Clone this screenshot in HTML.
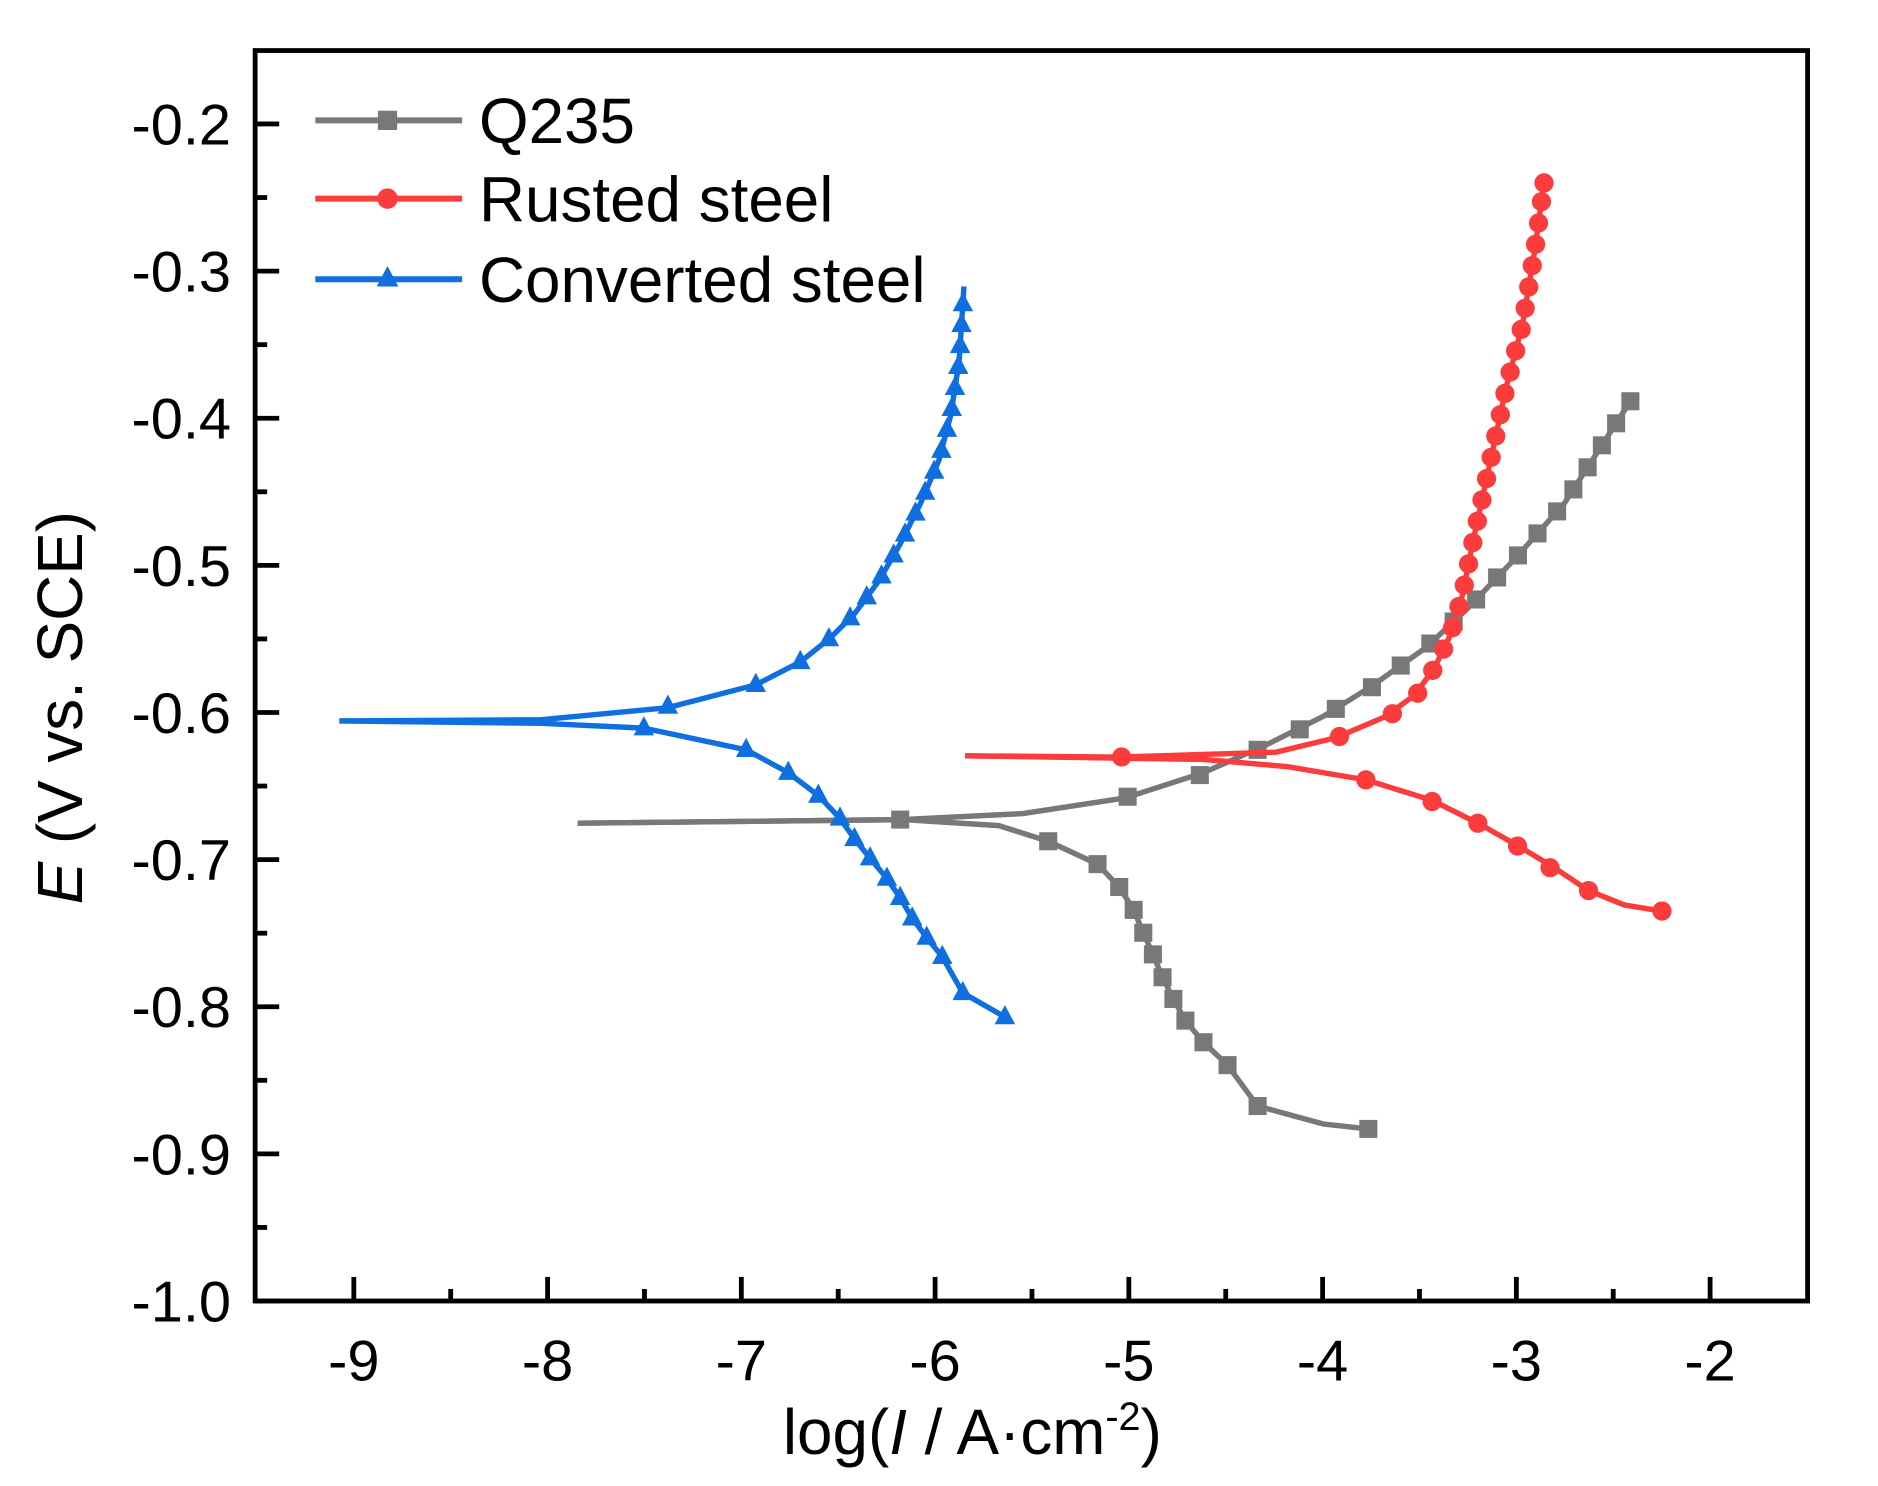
<!DOCTYPE html>
<html><head><meta charset="utf-8"><style>
html,body{margin:0;padding:0;background:#fff;}
svg{display:block;}
text{font-family:"Liberation Sans",Arial,sans-serif;fill:#000;}
</style></head><body>
<svg id="s" width="1878" height="1486" viewBox="0 0 1560.5 1234.7" preserveAspectRatio="none" xmlns="http://www.w3.org/2000/svg">
<g id="ax"></g>
<g id="series"></g>
<rect x="212" y="42" width="1290" height="1039" fill="none" stroke="#000" stroke-width="4"/>
<g font-size="48" text-anchor="end" id="ylab"></g>
<g font-size="48" text-anchor="middle" id="xlab"></g>
<text x="808" y="1208" font-size="53" text-anchor="middle">log(<tspan font-style="italic">I</tspan> / A·cm<tspan dy="-20" font-size="33">-2</tspan><tspan dy="20">)</tspan></text>
<text transform="translate(68,588) rotate(-90)" font-size="53" text-anchor="middle"><tspan font-style="italic">E</tspan> (V vs. SCE)</text>
<g id="leg" font-size="53">
<line x1="262" y1="100" x2="384" y2="100" stroke="#787878" stroke-width="5"/>
<rect x="314" y="92" width="16" height="16" fill="#787878"/>
<text x="398" y="119">Q235</text>
<line x1="262" y1="165" x2="384" y2="165" stroke="#fa3c3c" stroke-width="5"/>
<circle cx="322" cy="165" r="8.5" fill="#fa3c3c"/>
<text x="398" y="184">Rusted steel</text>
<line x1="262" y1="232" x2="384" y2="232" stroke="#0f6fe0" stroke-width="5"/>
<polygon points="322,221 331,238 313,238" fill="#0f6fe0"/>
<text x="398" y="251">Converted steel</text>
</g>
</svg>
<script>
const NS="http://www.w3.org/2000/svg";
function el(p,t,a){const e=document.createElementNS(NS,t);for(const k in a)e.setAttribute(k,a[k]);p.appendChild(e);return e;}
const ax=document.getElementById('ax'),yl=document.getElementById('ylab'),xl=document.getElementById('xlab'),ser=document.getElementById('series');
for(let i=0;i<=16;i++){const e=-0.2-i*0.05;const y=103+(-0.2-e)*1222.5;const maj=i%2==0;
 el(ax,'line',{x1:212,x2:212+(maj?20:10),y1:y,y2:y,stroke:'#000','stroke-width':4});
 if(maj){const t=el(yl,'text',{x:192,y:y+17});t.textContent=(e<=-0.999?'-1.0':e.toFixed(1));}}
for(let i=0;i<=14;i++){const v=-9+i*0.5;const x=294+(v+9)*161;const maj=i%2==0;
 el(ax,'line',{x1:x,x2:x,y1:1081,y2:1081-(maj?20:10),stroke:'#000','stroke-width':4});
 if(maj){const t=el(xl,'text',{x:x,y:1147});t.textContent=String(v);}}
function path(pts,c){el(ser,'polyline',{points:pts.map(p=>p.join(',')).join(' '),fill:'none',stroke:c,'stroke-width':4.5,'stroke-linejoin':'round'});}
function xAt(pts,y){for(let i=1;i<pts.length;i++){const a=pts[i-1],b=pts[i];if((y-a[1])*(y-b[1])<=0&&a[1]!=b[1]){return a[0]+(b[0]-a[0])*(y-a[1])/(b[1]-a[1]);}}return null;}
function mark(x,y,c,type){
 if(type=='sq')el(ser,'rect',{x:x-7.5,y:y-7.5,width:15,height:15,fill:c});
 else if(type=='ci')el(ser,'circle',{cx:x,cy:y,r:8,fill:c});
 else el(ser,'polygon',{points:`${x},${y-10} ${x+8.5},${y+6} ${x-8.5},${y+6}`,fill:c});}
const G='#787878',R='#fa3c3c',B='#0f6fe0';
// Gray
const gA=[[480,684],[750,681],[850,676],[935,663],[1000,642],[1050,620],[1100,595],[1140,570],[1185,538],[1220,505],[1260,463],[1300,418],[1355,333]];
const gCm=[[871,699],[912,718],[930,737],[942,756],[950,775],[958,793],[966,812],[975,830],[985,848],[1000,866],[1020,885],[1045,919],[1100,934],[1137,938]];
path(gA,G);path([[480,684],[750,681],[830,686]].concat(gCm),G);
[[748,681],[937,662],[997,644],[1045,623],[1080,606],[1110,589],[1140,571]].forEach(p=>mark(p[0],p[1],G,'sq'));
for(let y=553;y>=332;y-=18.3){mark(xAt(gA,y),y,G,'sq');}
gCm.filter((p,i)=>i!=12).forEach(p=>mark(p[0],p[1],G,'sq'));
// Red
const rA=[[802,628],[930,629],[1060,625],[1110,613],[1150,596],[1175,578],[1192,555],[1205,528],[1215,495],[1225,445],[1238,385],[1252,320],[1265,270],[1275,210],[1283,152]];
const rC=[[802,628],[1000,631],[1070,637],[1135,648],[1190,665],[1230,685],[1260,702],[1290,720],[1320,740],[1350,752],[1381,757]];
path(rA,R);path(rC,R);
[[932,629],[1113,612],[1157,593],[1178,576]].forEach(p=>mark(p[0],p[1],R,'ci'));
for(let y=557;y>=150;y-=17.7){mark(xAt(rA,y),y,R,'ci');}
mark(1283,152,R,'ci');
[[1135,648],[1190,666],[1228,684],[1261,703],[1288,721],[1320,740],[1381,757]].forEach(p=>mark(p[0],p[1],R,'ci'));
// Blue
const bA=[[282,599],[450,598],[555,588],[628,569],[665,550],[690,530],[710,510],[730,483],[748,452],[765,418],[780,383],[790,345],[797,300],[801,238]];
const bCm=[[535,605],[620,623],[655,642],[680,661],[698,680],[710,697],[723,713],[737,730],[748,746],[758,763],[770,779],[783,795],[800,825],[835,845]];
path(bA,B);path([[282,599],[450,601]].concat(bCm),B);
[[555,587],[628,569],[665,550]].forEach(p=>mark(p[0],p[1],B,'tr'));
for(let y=531;y>=236;y-=17.4){mark(xAt(bA,y),y,B,'tr');}
bCm.forEach(p=>mark(p[0],p[1],B,'tr'));
</script>
</body></html>
